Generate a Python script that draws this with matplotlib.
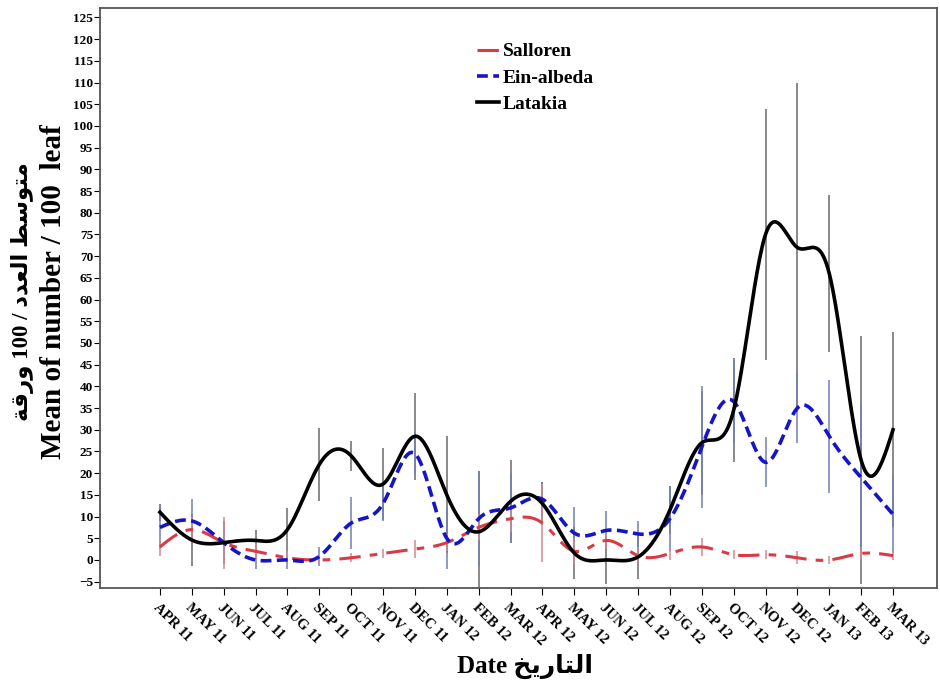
import numpy as np
import matplotlib
matplotlib.use("Agg")
import matplotlib.pyplot as plt

months = ["APR 11", "MAY 11", "JUN 11", "JUL 11", "AUG 11", "SEP 11", "OCT 11", "NOV 11",
          "DEC 11", "JAN 12", "FEB 12", "MAR 12", "APR 12", "MAY 12", "JUN 12", "JUL 12",
          "AUG 12", "SEP 12", "OCT 12", "NOV 12", "DEC 12", "JAN 13", "FEB 13", "MAR 13"]

salloren = [3, 7, 4, 2, 0.5, 0, 0.5, 1.5, 2.5, 4, 7.5, 9.5,
            8.5, 2, 4.5, 1, 1.5, 3, 1.2, 1.2, 0.5, 0, 1.5, 1]
salloren_err = [2, 3, 6, 2, 1.5, 1, 1, 1, 2, 2, 3, 3,
                9, 3, 2, 2, 1.5, 2, 1, 1, 1.5, 1, 1.5, 1]

ein_albeda = [7.5, 9, 4, 0, 0, 0.8, 8.5, 13, 24.5, 5, 9.5, 12,
              14, 6.2, 6.8, 6, 9.5, 26, 36.5, 22.5, 35, 28.5, 19, 10.5]
ein_albeda_err = [5, 5, 3, 2, 2, 2.3, 6, 4, 5, 7, 11, 8,
                  4, 6, 4.5, 3, 7.5, 14, 9.5, 5.8, 8, 13, 17, 9]

latakia = [11, 4.6, 4, 4.5, 7, 22, 24, 17.5, 28.5, 15, 6.5, 13.5,
           13, 1.6, 0, 0.7, 11.5, 27, 34.5, 75, 72, 66, 23, 30]
latakia_err = [2, 6, 5, 2.5, 5, 8.4, 3.5, 8.4, 10, 13.5, 14, 9.5,
               5, 6, 5.5, 5, 5.5, 12, 12, 29, 38, 18, 28.5, 22.5]

y_label_ar = "\uFE94\uFED7\uFEAD\uFEED 100 / \uFEA9\uFEAA\uFECC\uFEDF\uFE8D \uFEC2\uFEB3\uFEEE\uFE98\uFEE3"
y_label_en = "Mean of number / 100  leaf"
x_label = "Date \uFEA6\uFEF3\uFEAD\uFE8E\uFE98\uFEDF\uFE8D"


def natural_spline(x, y, n=600):
    """Natural cubic spline through the points, evaluated on a fine grid"""
    x = np.asarray(x, float)
    y = np.asarray(y, float)
    k = len(x)
    h = np.diff(x)
    A = np.zeros((k, k))
    b = np.zeros(k)
    A[0, 0] = A[-1, -1] = 1
    for i in range(1, k - 1):
        A[i, i - 1] = h[i - 1]
        A[i, i] = 2 * (h[i - 1] + h[i])
        A[i, i + 1] = h[i]
        b[i] = 6 * ((y[i + 1] - y[i]) / h[i] - (y[i] - y[i - 1]) / h[i - 1])
    m = np.linalg.solve(A, b)
    xs = np.linspace(x[0], x[-1], n)
    idx = np.clip(np.searchsorted(x, xs) - 1, 0, k - 2)
    x0, x1 = x[idx], x[idx + 1]
    hh = x1 - x0
    t0, t1 = x1 - xs, xs - x0
    ys = (m[idx] * t0**3 + m[idx + 1] * t1**3) / (6 * hh) \
        + (y[idx] / hh - m[idx] * hh / 6) * t0 \
        + (y[idx + 1] / hh - m[idx + 1] * hh / 6) * t1
    return xs, ys


plt.rcParams["font.family"] = ["Liberation Serif", "DejaVu Sans"]
plt.rcParams["font.weight"] = "bold"

fig = plt.figure(figsize=(9.4, 6.84), dpi=100)
ax = fig.add_axes([0.1064, 0.1404, 0.8904, 0.848])

x = np.arange(len(months))

ax.errorbar(x, latakia, yerr=latakia_err, fmt="none", ecolor="#6a6a6a", elinewidth=1.1, capsize=0)
ax.errorbar(x, ein_albeda, yerr=ein_albeda_err, fmt="none", ecolor="#7080b0", elinewidth=1.1, capsize=0)
ax.errorbar(x, salloren, yerr=salloren_err, fmt="none", ecolor="#d08a90", elinewidth=1.1, capsize=0)

xs, ys = natural_spline(x, salloren)
ax.plot(xs, ys, color="#d93a45", lw=2.2, linestyle=(0, (7, 3, 2.5, 3)), label="Salloren")
xs, ys = natural_spline(x, ein_albeda)
ax.plot(xs, ys, color="#1515c8", lw=2.6, linestyle=(0, (3, 1.5)), label="Ein-albeda")
xs, ys = natural_spline(x, latakia)
ax.plot(xs, ys, color="black", lw=2.6, label="Latakia")

ax.set_xlim(-1.88, 24.38)
ax.set_ylim(-6.45, 127.2)
ax.set_yticks(np.arange(-5, 126, 5))
ax.set_xticks(x)
ax.set_xticklabels(months, rotation=-45, ha="left", va="top", rotation_mode="anchor", fontsize=10.5)
ax.tick_params(axis="y", labelsize=9.5, direction="out", length=4, pad=1)
ax.tick_params(axis="x", direction="out", length=5, pad=4)
for s in ax.spines.values():
    s.set_color("#555555")
    s.set_linewidth(1.3)

leg = ax.legend(loc="upper left", bbox_to_anchor=(0.43, 0.97), frameon=False,
                fontsize=14, handlelength=1.1, handletextpad=0.2, labelspacing=0.45)

fig.text(0.024, 0.573, y_label_ar, rotation=90, ha="center", va="center", fontsize=16.5,
         family=["Liberation Serif", "DejaVu Sans"], fontweight="bold")
fig.text(0.057, 0.573, y_label_en, rotation=90, ha="center", va="center", fontsize=21,
         fontweight="bold")
fig.text(0.558, 0.026, x_label, ha="center", va="center", fontsize=18, fontweight="bold",
         family=["Liberation Serif", "DejaVu Sans"])

fig.savefig("out.png", dpi=100)
